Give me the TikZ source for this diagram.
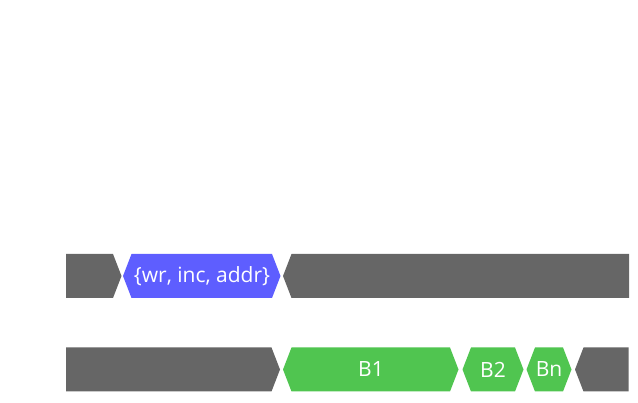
\documentclass[tikz,border=0pt]{standalone}
\usepackage{fontspec}
\setmainfont{Open Sans}
\usepackage{xcolor}
\usepackage{tikz}
\definecolor{idle}{RGB}{102,102,102}
\definecolor{cmd}{RGB}{94,94,255}
\definecolor{burst}{RGB}{80,197,80}

\begin{document}
\begin{tikzpicture}[x=1pt, y=-1pt, every node/.style={inner sep=0pt},
  idlefill/.style={fill=idle},
  cmdfill/.style={fill=cmd},
  burstfill/.style={fill=burst},
  lbl/.style={text=white, font=\fontsize{21}{24}\selectfont}]
\useasboundingbox (0,0) rectangle (638,403);
% command lane
\fill[idlefill] (66,254) -- (113,254) -- (121.5,276) -- (113,298) -- (66,298) -- cycle;
\fill[cmdfill] (123,276) -- (131.5,254) -- (272,254) -- (280.5,276) -- (272,298) -- (131.5,298) -- cycle;
\fill[idlefill] (283,276) -- (291.5,254) -- (629,254) -- (629,298) -- (291.5,298) -- cycle;
\node[lbl] (cmdtxt) at (202,276) {\{wr, inc, addr\}};
% data lane
\fill[idlefill] (66,347.5) -- (271.5,347.5) -- (280,369.5) -- (271.5,391.5) -- (66,391.5) -- cycle;
\fill[burstfill] (283,369.5) -- (291.5,347.5) -- (450,347.5) -- (458.5,369.5) -- (450,391.5) -- (291.5,391.5) -- cycle;
\fill[burstfill] (462.5,369.5) -- (471,347.5) -- (515,347.5) -- (523.5,369.5) -- (515,391.5) -- (471,391.5) -- cycle;
\fill[burstfill] (526.5,369.5) -- (535,347.5) -- (563,347.5) -- (571.5,369.5) -- (563,391.5) -- (535,391.5) -- cycle;
\fill[idlefill] (575,369.5) -- (583.5,347.5) -- (628.5,347.5) -- (628.5,391.5) -- (583.5,391.5) -- cycle;
\node[lbl] (b1) at (371,369.5) {B1};
\node[lbl] (b2) at (493,369.5) {B2};
\node[lbl] (bn) at (549,369.5) {Bn};
\end{tikzpicture}
\end{document}
